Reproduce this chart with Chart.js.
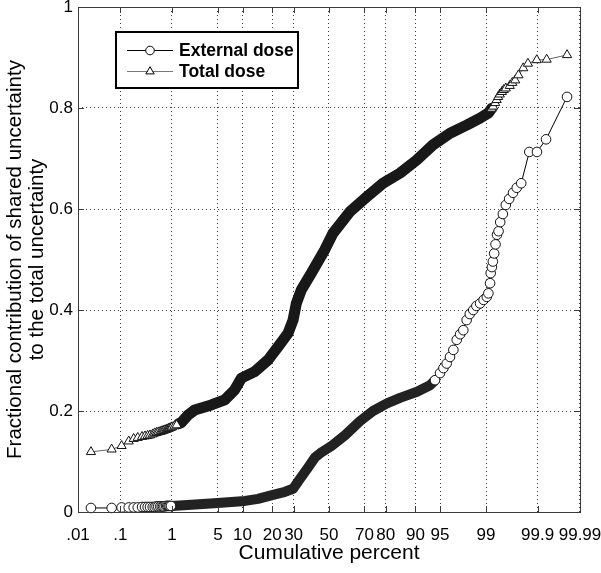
<!DOCTYPE html>
<html>
<head>
<meta charset="utf-8">
<script src="https://cdn.jsdelivr.net/npm/chart.js@4/dist/chart.umd.min.js"></script>
<style>
html,body{margin:0;padding:0;background:#fff;}
canvas{display:block;}
</style>
</head>
<body>
<canvas id="c" width="601" height="573"></canvas>
<script>
// ---------------- data ----------------
const seriesNames = ['External dose', 'Total dose'];

// cumulative percent of each plotted point, External dose
const extPct = [0.021,0.064,0.106,0.15,0.19,0.23,0.28,0.32,0.36,0.40,0.45,0.49,0.53,0.57,0.62,0.66,0.70,0.74,0.79,0.83,0.87,0.91,0.96,1.0,
  2.36,5.0,10.66,14.64,19.52,25.72,29.70,32.31,37.79,41.80,45.86,51.2,59.37,67.69,74.28,80.48,85.36,90.39,93.28,
  94.19,95.0,95.5,95.94,96.35,96.73,97.08,97.4,97.67,97.93,98.15,98.37,98.55,98.74,98.9,99.03,99.09,99.15,99.17,99.21,
  99.24,99.28,99.32,99.36,99.40,99.44,99.50,99.56,99.62,99.68,99.73,99.78,99.85,99.897,99.935,99.979];
// fractional contribution, External dose
const extVal = [0.008,0.008,0.009,0.009,0.009,0.009,0.010,0.010,0.010,0.010,0.010,0.010,0.011,0.011,0.011,0.011,0.011,0.011,0.012,0.012,0.012,0.012,0.012,0.012,
  0.015,0.018,0.022,0.026,0.033,0.040,0.046,0.060,0.088,0.108,0.119,0.130,0.152,0.180,0.200,0.215,0.226,0.238,0.251,
  0.261,0.275,0.285,0.294,0.307,0.321,0.341,0.352,0.360,0.380,0.392,0.400,0.408,0.413,0.420,0.426,0.433,0.453,0.473,0.485,
  0.496,0.512,0.530,0.549,0.556,0.574,0.590,0.608,0.620,0.632,0.642,0.651,0.713,0.713,0.738,0.822];

// cumulative percent of each plotted point, Total dose
const totPct = [0.021,0.064,0.106,0.15,0.19,0.23,0.28,0.32,0.36,0.40,0.45,0.49,0.53,0.57,0.62,0.66,0.70,0.74,0.79,0.83,0.87,0.91,0.96,1.0,1.1,1.2,1.3,
  1.43,1.83,2.33,4.06,6.12,8.12,9.70,13.55,18.30,22.48,27.19,29.70,31.42,34.09,39.67,47.45,52.35,62.21,71.19,78.81,85.36,90.32,93.83,96.35,97.93,98.74,99.09,
  99.20,99.25,99.31,99.35,99.39,99.43,99.48,99.52,99.56,99.63,99.67,99.71,99.75,99.80,99.84,99.896,99.937,99.979];
// fractional contribution, Total dose
const totVal = [0.119,0.124,0.131,0.140,0.145,0.147,0.149,0.150,0.151,0.152,0.154,0.156,0.157,0.158,0.159,0.160,0.161,0.162,0.163,0.164,0.165,0.166,0.167,0.168,0.170,0.172,0.175,
  0.177,0.192,0.202,0.212,0.222,0.242,0.265,0.278,0.301,0.327,0.354,0.380,0.413,0.440,0.473,0.519,0.552,0.595,0.624,0.651,0.671,0.697,0.727,0.750,0.766,0.780,0.790,
  0.799,0.803,0.810,0.816,0.822,0.827,0.832,0.836,0.839,0.844,0.850,0.855,0.865,0.879,0.888,0.895,0.896,0.905];

// axis ticks
const xTickPct = [0.01,0.1,1,5,10,20,30,50,70,80,90,95,99,99.9,99.99];
const xTickLabels = ['.01','.1','1','5','10','20','30','50','70','80','90','95','99','99.9','99.99'];
const yTickVals = [0,0.2,0.4,0.6,0.8,1];
const yTickLabels = ['0','0.2','0.4','0.6','0.8','1'];

// ---------------- normal-probability scale helper ----------------
function probit(p){
  const a=[-3.969683028665376e+01,2.209460984245205e+02,-2.759285104469687e+02,1.383577518672690e+02,-3.066479806614716e+01,2.506628277459239e+00];
  const b=[-5.447609879822406e+01,1.615858368580409e+02,-1.556989798598866e+02,6.680131188771972e+01,-1.328068155288572e+01];
  const c=[-7.784894002430293e-03,-3.223964580411365e-01,-2.400758277161838e+00,-2.549732539343734e+00,4.374664141464968e+00,2.938163982698783e+00];
  const d=[7.784695709041462e-03,3.224671290700398e-01,2.445134137142996e+00,3.754408661907416e+00];
  const pl=0.02425, ph=1-pl; let q,r;
  if(p<pl){q=Math.sqrt(-2*Math.log(p));return (((((c[0]*q+c[1])*q+c[2])*q+c[3])*q+c[4])*q+c[5])/((((d[0]*q+d[1])*q+d[2])*q+d[3])*q+1);}
  if(p<=ph){q=p-0.5;r=q*q;return (((((a[0]*r+a[1])*r+a[2])*r+a[3])*r+a[4])*r+a[5])*q/(((((b[0]*r+b[1])*r+b[2])*r+b[3])*r+b[4])*r+1);}
  q=Math.sqrt(-2*Math.log(1-p));return -(((((c[0]*q+c[1])*q+c[2])*q+c[3])*q+c[4])*q+c[5])/((((d[0]*q+d[1])*q+d[2])*q+d[3])*q+1);
}
const toPoints = (pcts, vals) => pcts.map((p,i)=>({x: probit(p/100), y: vals[i]}));

// styling: where markers overlap into a solid band
const extBand = [1.0, 94.0];
const totBand = [1.3, 99.1];
const inBand = (p, band) => p >= band[0] && p <= band[1];
const segBand = (p, band) => p >= band[0] && p < band[1];

Chart.defaults.font.family = "'Liberation Sans', Arial, sans-serif";
Chart.defaults.color = '#000';

function drawMarker(ctx, style, x, y, r){
  ctx.beginPath();
  if(style==='circle'){ ctx.arc(x,y,r,0,Math.PI*2); }
  else {
    ctx.moveTo(x, y - r);
    ctx.lineTo(x + r*0.866, y + r*0.5);
    ctx.lineTo(x - r*0.866, y + r*0.5);
    ctx.closePath();
  }
  ctx.fill(); ctx.stroke();
}

const framePlugin = {
  id: 'frame',
  afterDraw(chart){
    const {ctx, chartArea: a, scales} = chart;
    ctx.save();
    ctx.strokeStyle = '#3a3a3a'; ctx.lineWidth = 1;
    ctx.strokeRect(a.left+0.5, a.top+0.5, a.right-a.left, a.bottom-a.top);
    const tl = 6;
    ctx.beginPath();
    scales.x.ticks.forEach(t=>{
      const px = Math.round(scales.x.getPixelForValue(t.value))+0.5;
      ctx.moveTo(px, a.bottom); ctx.lineTo(px, a.bottom-tl);
      ctx.moveTo(px, a.top); ctx.lineTo(px, a.top+tl);
    });
    scales.y.ticks.forEach(t=>{
      const py = Math.round(scales.y.getPixelForValue(t.value))+0.5;
      ctx.moveTo(a.left, py); ctx.lineTo(a.left+tl, py);
      ctx.moveTo(a.right, py); ctx.lineTo(a.right-tl, py);
    });
    ctx.stroke();
    // legend
    const bx=116, by=32, bw=182, bh=56;
    ctx.fillStyle='#fff'; ctx.fillRect(bx,by,bw,bh);
    ctx.lineWidth=2; ctx.strokeStyle='#000'; ctx.strokeRect(bx,by,bw,bh);
    const rows=[50,71];
    chart.data.datasets.forEach((ds,i)=>{
      const y=rows[i];
      ctx.lineWidth=1; ctx.strokeStyle=ds.legendLine;
      ctx.beginPath(); ctx.moveTo(127,y+0.5); ctx.lineTo(173,y+0.5); ctx.stroke();
      ctx.fillStyle='#fff'; ctx.strokeStyle='#000';
      drawMarker(ctx, ds.pointStyle, 150, y+0.5, ds.legendR);
      ctx.fillStyle='#000'; ctx.font="bold 17.5px 'Liberation Sans', Arial, sans-serif";
      ctx.textBaseline='middle'; ctx.textAlign='left';
      ctx.fillText(ds.label, 179, y+1);
    });
    ctx.restore();
  }
};

new Chart(document.getElementById('c'), {
  type: 'scatter',
  data: {
    datasets: [
      {
        label: seriesNames[0],
        data: toPoints(extPct, extVal),
        showLine: true,
        pointStyle: 'circle',
        legendR: 4.3,
        legendLine: '#000',
        pointRadius: c => inBand(extPct[c.dataIndex], extBand) ? 0 : 4.8,
        pointBackgroundColor: '#fff',
        pointBorderColor: '#111',
        pointBorderWidth: 1,
        borderColor: '#000',
        borderWidth: 1,
        borderCapStyle: 'round',
        borderJoinStyle: 'round',
        segment: {
          borderWidth: c => segBand(extPct[c.p0DataIndex], extBand) ? 10 : 1,
          borderColor: c => segBand(extPct[c.p0DataIndex], extBand) ? '#222' : '#000'
        },
        clip: 8
      },
      {
        label: seriesNames[1],
        data: toPoints(totPct, totVal),
        showLine: true,
        pointStyle: 'triangle',
        legendR: 4.8,
        legendLine: '#777',
        pointRadius: c => inBand(totPct[c.dataIndex], totBand) ? 0 : 5.3,
        pointBackgroundColor: '#fff',
        pointBorderColor: '#111',
        pointBorderWidth: 1,
        borderColor: '#666',
        borderWidth: 1,
        borderCapStyle: 'round',
        borderJoinStyle: 'round',
        segment: {
          borderWidth: c => segBand(totPct[c.p0DataIndex], totBand) ? 11 : 1,
          borderColor: c => segBand(totPct[c.p0DataIndex], totBand) ? '#181818' : '#666'
        },
        clip: 8
      }
    ]
  },
  options: {
    responsive: false,
    animation: false,
    events: [],
    layout: { padding: { left: 0, right: 21, top: 7, bottom: 0 } },
    plugins: { legend: { display: false }, tooltip: { enabled: false } },
    scales: {
      x: {
        type: 'linear',
        min: probit(0.0001), max: probit(0.9999),
        afterBuildTicks: s => { s.ticks = xTickPct.map(p => ({ value: probit(p/100) })); },
        afterFit: s => { s.height = 61; s.paddingLeft = 0; s.paddingRight = 0; },
        ticks: { autoSkip: false, maxRotation: 0, minRotation: 0, padding: 13, font: { size: 17 }, color: '#000',
                 callback: (v, i) => xTickLabels[i] },
        grid: { color: 'rgba(0,0,0,0.75)', drawTicks: false, lineWidth: 1 },
        border: { display: false, dash: [1, 3] },
        title: { display: true, text: 'Cumulative percent', font: { size: 21 }, color: '#000', padding: { top: 0, bottom: 7 } }
      },
      y: {
        type: 'linear',
        min: 0, max: 1,
        afterBuildTicks: s => { s.ticks = yTickVals.map(v => ({ value: v })); },
        afterFit: s => { s.width = 78; s.paddingTop = 0; s.paddingBottom = 0; },
        ticks: { padding: 5, font: { size: 17 }, color: '#000', callback: (v, i) => yTickLabels[i] },
        grid: { color: 'rgba(0,0,0,0.75)', drawTicks: false, lineWidth: 1 },
        border: { display: false, dash: [1, 3] },
        title: { display: true, text: ['Fractional contribution of shared uncertainty', 'to the total uncertainty'],
                 font: { size: 20.5, lineHeight: 1.07 }, color: '#000', padding: { top: 4, bottom: 0 } }
      }
    }
  },
  plugins: [framePlugin]
});
</script>
</body>
</html>
